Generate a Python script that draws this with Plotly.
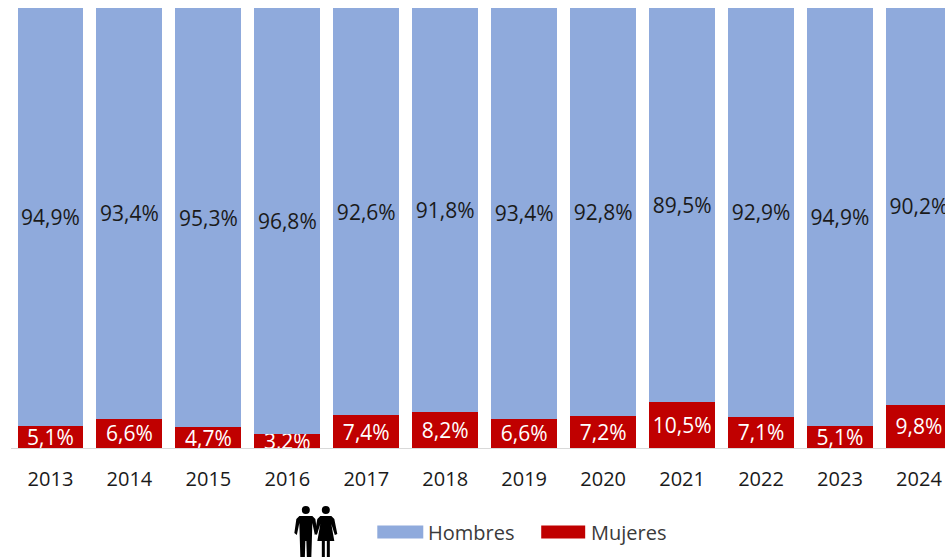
import plotly.graph_objects as go

years = ["2013","2014","2015","2016","2017","2018","2019","2020","2021","2022","2023","2024"]
hombres = [94.9,93.4,95.3,96.8,92.6,91.8,93.4,92.8,89.5,92.9,94.9,90.2]
mujeres = [5.1,6.6,4.7,3.2,7.4,8.2,6.6,7.2,10.5,7.1,5.1,9.8]

W, H = 945, 558
L, R, T, B = 10.5, 945, 8, 448
BLUE, RED = "#8FAADC", "#C00000"
INK = "#1A1A1A"
FONT = "Open Sans"

def fmt(v):
    return f"{v:.1f}%".replace(".", ",")

def px(x): return (x - L) / (R - L)
def py(y): return (B - y) / (B - T)

fig = go.Figure()
fig.add_bar(x=years, y=mujeres, name="Mujeres", marker_color=RED, marker_line_width=0,
            text=[fmt(v) for v in mujeres], textposition="inside", insidetextanchor="middle",
            textangle=0, constraintext="none", cliponaxis=False,
            insidetextfont=dict(color="white", size=21, family=FONT))
fig.add_bar(x=years, y=hombres, name="Hombres", marker_color=BLUE, marker_line_width=0,
            text=[fmt(v) for v in hombres], textposition="inside", insidetextanchor="middle",
            textangle=0, constraintext="none", cliponaxis=False,
            insidetextfont=dict(color=INK, size=21, family=FONT))

shapes = []
annotations = []

def rect(x0, y0, x1, y1, color):
    shapes.append(dict(type="rect", xref="paper", yref="paper", x0=px(x0), x1=px(x1),
                       y0=py(y0), y1=py(y1), fillcolor=color, line_width=0, layer="above"))

def circle(cx, cy, r):
    shapes.append(dict(type="circle", xref="paper", yref="paper", x0=px(cx-r), x1=px(cx+r),
                       y0=py(cy-r), y1=py(cy+r), fillcolor="black", line_width=0, layer="above"))

def poly(points):
    d = "M" + " L".join(f"{px(x):.5f},{py(y):.5f}" for x, y in points) + " Z"
    shapes.append(dict(type="path", xref="paper", yref="paper", path=d,
                       fillcolor="black", line_width=0, layer="above"))

# legend
rect(377, 525.5, 423, 538.5, BLUE)
rect(541, 525.5, 585, 538.5, RED)
for x, label in [(426, "Hombres"), (589, "Mujeres")]:
    annotations.append(dict(text=label, xref="paper", yref="paper", x=px(x), y=py(532),
                            xanchor="left", yanchor="middle", showarrow=False,
                            font=dict(size=20, color="#3A3A3A", family=FONT)))

# man + woman pictogram
circle(305.5, 510, 4)
poly([(299,516),(312,516),(315,519),(317,533),(314.5,535),(312,523),(311.5,541),(311,557),(306.5,557),(306,541),(305,541),(304.5,557),(300,557),(299.5,541),(299,523),(296.5,535),(294,533),(296,519)])
circle(325.5, 510, 4)
poly([(320,516),(331,516),(334,519),(337,534),(334.5,535),(331,524),(334,541),(329.5,541),(329.5,557),(326.5,557),(326.5,541),(324.5,541),(324.5,557),(321.5,557),(321.5,541),(317,541),(320,524),(316.5,535),(314.5,533),(317,519)])

fig.update_layout(
    width=W, height=H, barmode="stack", bargap=13/79, showlegend=False,
    plot_bgcolor="white", paper_bgcolor="white",
    margin=dict(l=L, r=W-R, t=T, b=H-B, autoexpand=False),
    font=dict(family=FONT, color=INK),
    xaxis=dict(type="category", range=[-0.5, 11.33], showgrid=False, ticks="",
               showline=True, linecolor="#D9D9D9", linewidth=1, zeroline=False,
               ticklabelstandoff=13, tickfont=dict(size=20, color=INK, family=FONT),
               automargin=False),
    yaxis=dict(range=[0, 100], visible=False),
    shapes=shapes, annotations=annotations,
)
fig.write_html("out.html", config=dict(displayModeBar=False),
               post_script="document.body.style.margin='0';document.documentElement.style.overflow='hidden';")
